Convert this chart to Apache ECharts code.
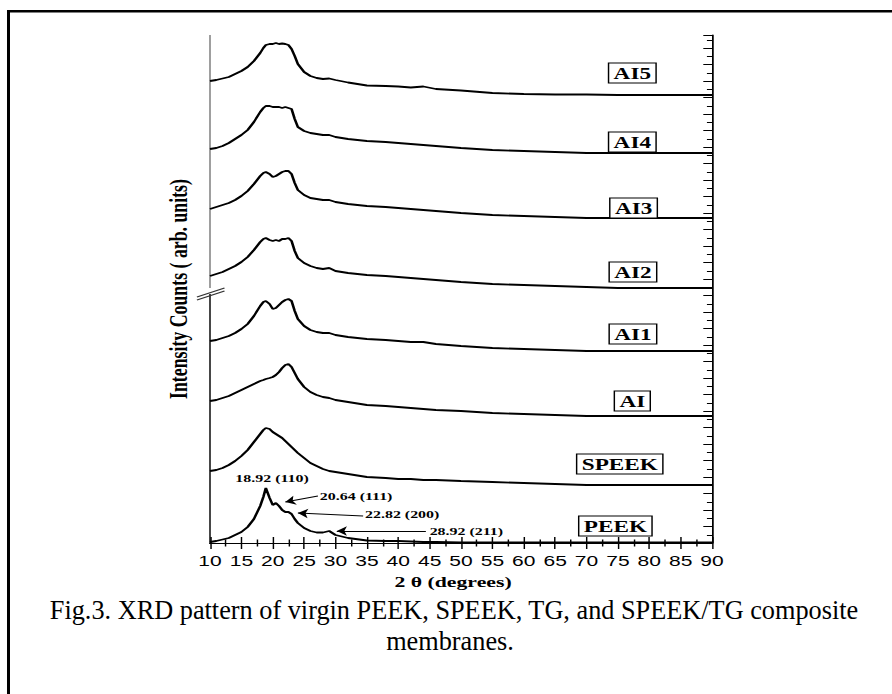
<!DOCTYPE html>
<html><head><meta charset="utf-8">
<script src="https://cdn.jsdelivr.net/npm/echarts@6/dist/echarts.min.js"></script>
<style>
html,body{margin:0;padding:0;background:#fff;}
body{width:892px;height:694px;position:relative;overflow:hidden;}
#chart{position:absolute;left:0;top:0;width:615px;height:694px;transform:scaleX(1.450407);transform-origin:0 0;}
</style></head>
<body>
<div id="chart"></div>
<script>
// ---- data (2θ in degrees, intensity in arbitrary stacked units) ----
const theta = [10,11,12,13,14,15,16,17,18,18.5,18.9,19.5,20,20.5,21,21.5,22,22.5,23,23.5,24,25,26,27,28,29,30,32,35,38,40,42,44,46,50,55,60,65,70,75,80,85,90];
const AI5 = [462,463,464.5,466,469,472,476,482,490, 495,498,499,499,500,499,499.5,499,498,494,487,479, 471,467,465,464,464.5,463, 460.5,457.5,457,456.5,455.5,456.5,454,452.5,450,449,448.5,448.5,448,448,448,448];
const AI4 = [394,395,397,400,404,408,413,421,431, 435,437,437,436,436,436,435,436,435,434,424,416, 412,410,409,408,408,406, 404,402,401,400,399,398,397,395,393,392,391,390,390,390,390,390];
const AI3 = [334,336,338,340,343,347,352,359,367, 370,371,369,366,367,369,371,372,372,369,360,353, 348,345,344,343,343,341, 339,337,336,335,334,333,332,330,328,327,326,325,325,325,325,325];
const AI2 = [267,269,271,274,277,281,286,293,301, 304,305,303,302,303,302,304,304,305,302,292,285, 280,277,275,274,275,272, 270,268,267,266,265,264,263,261,259,258,257,256,255,255,255,255];
const AI1 = [202,203,205,207,210,214,219,227,237, 241,242,239,234,235,238,241,243,244,242,232,224, 217,213,211,210,210,208, 206,204,203,202,201,201,199,197,195,194,193,192,192,192,192,192];
const AI  = [142,143,145,147,150,153,156,159,162, 163,164,165,166,168,171,175,178,179,176,170,164, 156,151,148,146,145,143, 141,138,137,136,135,134,133,132,130,129,128,127,127,127,127,127];
const SPEEK = [72,73,75,78,82,87,93,101,109, 113,115,114,111,109,107,105,102,99,96,93,90, 85,80,77,74,72,71, 69,66,65,64,64,63,63,62,61,60,59,58,58,58,58,58];
const PEEK = [1,2,3.5,5,8,11,16,24,37, 46,55,45,38,40,37,33,31,31,29,24,20, 15,12,10.5,10.5,12,8, 5,2.5,2,2,1.5,1,1,0.5,0.5,0.5,0.5,0.5,0.5,0.5,0.5,0.5];
const seriesNames = ['AI5','AI4','AI3','AI2','AI1','AI','SPEEK','PEEK'];
const seriesValues = [AI5, AI4, AI3, AI2, AI1, AI, SPEEK, PEEK];
const xTicks = [10,15,20,25,30,35,40,45,50,55,60,65,70,75,80,85,90];
const peakTexts = ['18.92 (110)','20.64 (111)','22.82 (200)','28.92 (211)'];
const captionLines = ['Fig.3. XRD pattern of virgin PEEK, SPEEK, TG, and SPEEK/TG composite','membranes.'];

// ---- layout (not data) ----
const S = 892/615;              // horizontal stretch of the figure
const W = 615, H = 694;
const labelPos = {AI5:[77.3,470],AI4:[77.3,401],AI3:[77.5,335],AI2:[77.4,271],AI1:[77.4,209],AI:[77.3,142],SPEEK:[75.3,79],PEEK:[74.6,17]};
const peakTextPos = [[19.9,65,'inside'],[27.5,47,'right'],[34.7,29,'right'],[45.0,12,'right']];
const arrows = [[[27.2,47],[22.0,41]],[[34.4,27],[24.0,30]],[[44.4,12],[30.2,12]]];

const serif = '"Liberation Serif","Times New Roman",serif';
const chart = echarts.init(document.getElementById('chart'), null, {renderer:'svg', width:W, height:H});

const series = seriesNames.map((name, k) => {
  const s = {
    name, type:'line', xAxisIndex:0, yAxisIndex:0,
    data: theta.map((t,i)=>[t, seriesValues[k][i]]),
    showSymbol:false, symbol:'none', smooth:false, silent:true,
    lineStyle:{color:'#000', width:1.8},
    emphasis:{disabled:true},
    markPoint:{
      symbol:'rect', symbolSize:0, silent:true,
      data:[{coord:labelPos[name], name}],
      label:{show:true, position:'inside', formatter:'{b}', fontFamily:serif, fontWeight:'bold', fontSize:16,
             color:'#000', backgroundColor:'#fff', borderColor:'#000', borderWidth:1, padding:[2,3,1,3]}
    }
  };
  if (name === 'PEEK') {
    peakTexts.forEach((t,i)=>{
      s.markPoint.data.push({coord:[peakTextPos[i][0],peakTextPos[i][1]], name:t,
        label:{show:true, position:peakTextPos[i][2], distance:0, formatter:'{b}', fontFamily:serif, fontWeight:'bold', fontSize:11,
               color:'#000', backgroundColor:'transparent', borderWidth:0, padding:0}});
    });
    s.markLine = {
      silent:true, symbol:['none','arrow'], symbolSize:7, animation:false,
      lineStyle:{color:'#000', width:1, type:'solid'}, label:{show:false},
      data: arrows.map(a=>[{coord:a[0]},{coord:a[1]}])
    };
  }
  return s;
});

const tickCommon = {
  axisLine:{show:true, lineStyle:{color:'#000', width:1.2}},
  axisTick:{show:true, inside:true, length:6, lineStyle:{color:'#000', width:1}},
  minorTick:{show:true, splitNumber:2, length:3.5, lineStyle:{color:'#000', width:1}},
  splitLine:{show:false}, minorSplitLine:{show:false}
};

chart.setOption({
  animation:false,
  backgroundColor:'transparent',
  grid:{left:210/S, right:W-712/S, top:35, bottom:H-543},
  xAxis:[
    Object.assign({type:'value', min:10, max:90, interval:5, position:'bottom',
      axisLabel:{show:true, margin:11, fontFamily:'"Liberation Sans",Arial,sans-serif', fontSize:14.5, color:'#000',
                 formatter:v=>xTicks.includes(v)?String(v):''},
      name:'2 θ (degrees)', nameLocation:'middle', nameGap:25,
      nameTextStyle:{fontFamily:serif, fontWeight:'bold', fontSize:15, color:'#000', padding:[0,11,0,0]}}, tickCommon),
    Object.assign({type:'value', min:10, max:90, interval:5, position:'top', axisLabel:{show:false}}, tickCommon)
  ],
  yAxis:[
    {type:'value', min:0, max:508, position:'left', axisLine:{show:false}, axisTick:{show:false}, axisLabel:{show:false},
     splitLine:{show:false}, name:'Intensity Counts ( arb. units)', nameLocation:'middle', nameGap:13, nameRotate:90,
     nameTextStyle:{fontFamily:serif, fontWeight:'bold', fontSize:17.8, color:'#000'}},
    Object.assign({type:'value', min:0, max:508, interval:16.5, position:'right', axisLabel:{show:false}}, tickCommon)
  ],
  series
});

// decorations: page border, left axis line with break, caption
const p0 = chart.convertToPixel({gridIndex:0}, [10, 0]);
const p1 = chart.convertToPixel({gridIndex:0}, [10, 508]);
const pb = chart.convertToPixel({gridIndex:0}, [10, 252]);
const ax = p0[0];
chart.setOption({graphic:[
  {type:'rect', silent:true, shape:{x:7/S, y:10, width:3/S, height:H}, style:{fill:'#000'}},
  {type:'rect', silent:true, shape:{x:7/S, y:10, width:W, height:2.6}, style:{fill:'#000'}},
  {type:'line', silent:true, shape:{x1:ax, y1:p0[1], x2:ax, y2:pb[1]+3}, style:{stroke:'#000', lineWidth:1}},
  {type:'line', silent:true, shape:{x1:ax, y1:pb[1]-3, x2:ax, y2:p1[1]}, style:{stroke:'#7a7a7a', lineWidth:1}},
  {type:'line', silent:true, shape:{x1:ax-9, y1:pb[1]+6, x2:ax+10, y2:pb[1]-3}, style:{stroke:'#333', lineWidth:1}},
  {type:'line', silent:true, shape:{x1:ax-9, y1:pb[1]+9, x2:ax+10, y2:pb[1]}, style:{stroke:'#333', lineWidth:1}},
  {type:'text', silent:true, x:454/S, y:610, scaleX:1/S,
   style:{text:captionLines[0], fontFamily:serif, fontSize:26.3, fill:'#000', align:'center', verticalAlign:'middle', textAlign:'center', textVerticalAlign:'middle'}},
  {type:'text', silent:true, x:450/S, y:641, scaleX:1/S,
   style:{text:captionLines[1], fontFamily:serif, fontSize:26.3, fill:'#000', align:'center', verticalAlign:'middle', textAlign:'center', textVerticalAlign:'middle'}}
]});
</script>
</body></html>
